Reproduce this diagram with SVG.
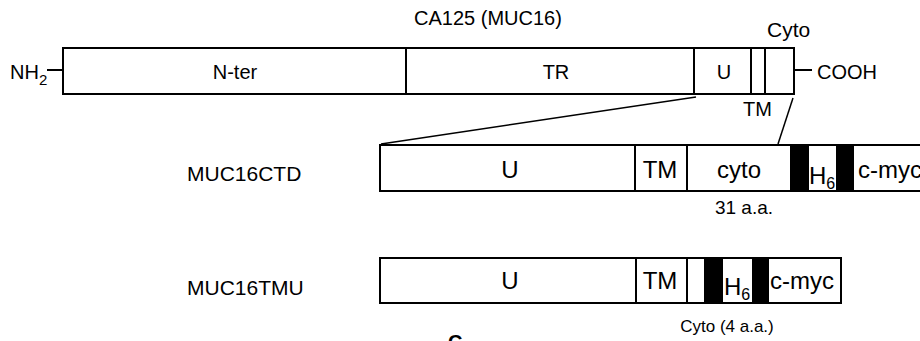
<svg xmlns="http://www.w3.org/2000/svg" width="920" height="341" viewBox="0 0 920 341">
<style>
.box{fill:#fff;stroke:#000;stroke-width:2}
.blk{fill:#000;stroke:#000;stroke-width:2}
.ln{stroke:#000;stroke-width:2;fill:none}
.zl{stroke:#000;stroke-width:1.5;fill:none}
text{font-family:"Liberation Sans",Arial,sans-serif;font-size:20px;fill:#000}
.c{text-anchor:middle}
.b{font-size:24px}
.s{font-size:17px}
</style>
<rect width="920" height="341" fill="#fff"/>
<text class="c" x="488" y="25">CA125 (MUC16)</text>
<g id="full">
<line class="ln" x1="47" y1="70" x2="63" y2="70"/>
<line class="ln" x1="794" y1="70" x2="812" y2="70"/>
<rect class="box" x="63" y="48" width="731" height="46"/>
<line class="ln" x1="406" y1="48" x2="406" y2="94"/>
<line class="ln" x1="694" y1="48" x2="694" y2="94"/>
<line class="ln" x1="751" y1="48" x2="751" y2="94"/>
<line class="ln" x1="765" y1="48" x2="765" y2="94"/>
<text x="10" y="79">NH<tspan font-size="15" dy="6">2</tspan></text>
<text class="c" x="235" y="79">N-ter</text>
<text class="c" x="556" y="79">TR</text>
<text class="c" x="724" y="79">U</text>
<text x="767" y="37" style="font-size:21px">Cyto</text>
<text x="817" y="79">COOH</text>
<text x="743" y="116">TM</text>
</g>
<g id="connectors">
<line class="zl" x1="696" y1="97" x2="381" y2="144"/>
<line class="zl" x1="793" y1="98" x2="778" y2="144"/>
</g>
<g id="ctd">
<text x="187" y="181" style="font-size:21px">MUC16CTD</text>
<rect class="box" x="380" y="145" width="560" height="46"/>
<line class="ln" x1="635" y1="145" x2="635" y2="191"/>
<line class="ln" x1="687" y1="145" x2="687" y2="191"/>
<rect class="blk" x="791" y="145" width="17" height="46"/>
<rect class="blk" x="837" y="145" width="16" height="46"/>
<text class="c b" x="510" y="178">U</text>
<text class="c b" x="660" y="178">TM</text>
<text class="c b" x="739" y="178">cyto</text>
<text class="b" x="809" y="184">H<tspan font-size="16" dy="5">6</tspan></text>
<text class="b" x="858" y="178">c-myc</text>
<text class="c" x="744" y="214" style="font-size:19px">31 a.a.</text>
</g>
<g id="tmu">
<text x="187" y="295" style="font-size:21px">MUC16TMU</text>
<rect class="box" x="380" y="258" width="461" height="45"/>
<line class="ln" x1="636" y1="258" x2="636" y2="303"/>
<line class="ln" x1="687" y1="258" x2="687" y2="303"/>
<rect class="blk" x="705" y="258" width="17" height="45"/>
<rect class="blk" x="753" y="258" width="15" height="45"/>
<text class="c b" x="510" y="289">U</text>
<text class="c b" x="660" y="289">TM</text>
<text class="b" x="724" y="295">H<tspan font-size="16" dy="5">6</tspan></text>
<text class="b" x="770" y="289">c-myc</text>
<text class="c s" x="727" y="332">Cyto (4 a.a.)</text>
</g>
<text x="448" y="349" style="font-size:20px;font-weight:bold">C</text>
</svg>
